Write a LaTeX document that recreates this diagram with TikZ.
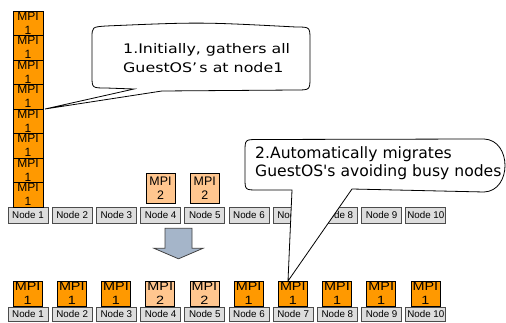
\documentclass[tikz,border=0pt]{standalone}
\usepackage{fontspec}
\setmainfont{Liberation Sans}
\newfontfamily\callfont{DejaVu Sans}
\newfontfamily\callfontwide[FakeStretch=1.2]{DejaVu Sans}
\newfontfamily\mpiwidefont[FakeStretch=1.2]{Liberation Sans}
\definecolor{mpiorange}{HTML}{FF9900}
\definecolor{mpipeach}{HTML}{FFC68F}
\definecolor{nodegray}{HTML}{DDDDDD}
\definecolor{arrowblue}{HTML}{A5B5C9}
\tikzset{
  hostbox/.style={draw=black!70, line width=0.9pt, fill=nodegray, minimum width=40pt, minimum height=16pt, inner sep=0pt, font=\fontsize{9.8}{11}\selectfont},
  hostboxlow/.style={hostbox, minimum height=14pt},
  mpione/.style={draw=black, line width=0.7pt, fill=mpiorange, minimum width=30pt, minimum height=24.5pt, inner sep=0pt, align=center, font=\fontsize{12}{14}\selectfont},
  mpilow/.style={mpione, minimum width=29pt, minimum height=25pt, font=\mpiwidefont\fontsize{12}{14.5}\selectfont},
  mpitwo/.style={mpione, fill=mpipeach, minimum width=29pt, minimum height=30pt, font=\fontsize{12.4}{14.3}\selectfont},
  callout/.style={draw=black, line width=0.8pt, fill=white},
  blockarrow/.style={draw=black!75, line width=0.8pt, fill=arrowblue},
  calltextA/.style={anchor=base west, inner sep=0pt, font=\callfontwide\fontsize{13.2}{16}\selectfont},
  calltextB/.style={anchor=base west, inner sep=0pt, font=\callfont\fontsize{15.6}{18.5}\selectfont}
}
\begin{document}
\begin{tikzpicture}[x=1pt,y=-1pt]
\useasboundingbox (0,0) rectangle (506,323);
\fill[white] (0,0) rectangle (506,323);

% top row of hosts
\foreach \i in {1,...,10}
  \node[hostbox] (t\i) at ({28+44.2*(\i-1)},215) {Node \i};

% stack of MPI 1 on node 1
\foreach \i in {1,...,8}
  \node[mpione] (s\i) at (28,{23.25+24.5*(\i-1)}) {MPI\\1};

% MPI 2 on nodes 4 and 5
\node[mpitwo] (m4) at (160.5,188) {MPI\\2};
\node[mpitwo] (m5) at (204.7,188) {MPI\\2};

% bottom row of hosts
\foreach \i in {1,...,10}
  \node[hostboxlow] (b\i) at ({28+44.2*(\i-1)},314) {Node \i};

% bottom row of MPI processes
\foreach \i/\k/\c in {1/1/mpiorange,2/1/mpiorange,3/1/mpiorange,4/2/mpipeach,5/2/mpipeach,6/1/mpiorange,7/1/mpiorange,8/1/mpiorange,9/1/mpiorange,10/1/mpiorange}
  \node[mpilow, fill=\c] (bm\i) at ({27.6+44.2*(\i-1)},293.5) {MPI\\\k};

% block arrow
\draw[blockarrow] (165,228.3) -- (192,228.3) -- (192,248.3) -- (203,248.3)
  -- (178.5,258.8) -- (154,248.3) -- (165,248.3) -- cycle;

% callout 1
\coordinate (tip1) at (45,109);
\draw[callout] (92,38) .. controls (92,27) .. (106,26)
  .. controls (200,22) .. (296,27) .. controls (310,27) .. (310,40)
  -- (310,77) .. controls (310,90) .. (296,90)
  -- (162,91) -- (tip1) -- (134,89)
  -- (106,88) .. controls (92,88) .. (92,76) -- cycle;
\node[calltextA] (c1a) at (123,54) {1.Initially, gathers all};
\node[calltextA] (c1b) at (123,72.5) {GuestOS’\,s at node1};

% callout 2
\coordinate (tip2) at (288,281);
\draw[callout] (245,152) .. controls (245,139.5) .. (258,139.5)
  -- (484,139) .. controls (512,140) and (512,191) .. (484,192)
  -- (352,189) -- (tip2) -- (292,190)
  -- (258,190) .. controls (245,190) .. (245,178) -- cycle;
\node[calltextB] (c2a) at (255,158.3) {2.Automatically migrates};
\node[calltextB] (c2b) at (255,176.8) {GuestOS's avoiding busy nodes};
\end{tikzpicture}
\end{document}
